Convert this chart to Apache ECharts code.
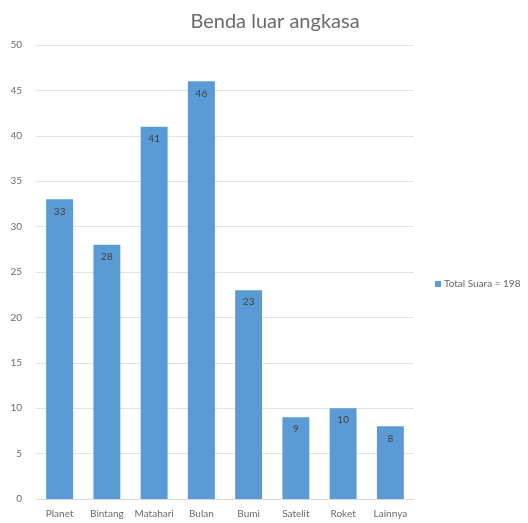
<!DOCTYPE html>
<html lang="id">
<head>
    <meta charset="utf-8">
    <title>Benda luar angkasa</title>
    <script src="https://cdn.jsdelivr.net/npm/echarts@6/dist/echarts.min.js"></script>
    <style>
        html, body { margin: 0; padding: 0; background: #fff; }
        #main { width: 528px; height: 523px; }
    </style>
</head>
<body>
<div id="main"></div>
<script>
    var categories = ['Planet', 'Bintang', 'Matahari', 'Bulan', 'Bumi', 'Satelit', 'Roket', 'Lainnya'];
    var values = [33, 28, 41, 46, 23, 9, 10, 8];
    var seriesName = 'Total Suara = 198';
    var yTicks = { min: 0, max: 50, interval: 5 };

    var chart = echarts.init(document.getElementById('main'));
    chart.setOption({
        textStyle: { fontFamily: 'Lato, "Open Sans", sans-serif' },
        title: {
            text: 'Benda luar angkasa',
            left: 270,
            textAlign: 'center',
            top: 7,
            textStyle: { fontSize: 20, fontWeight: 'normal', color: '#6b6b6b', fontFamily: 'Lato, "Open Sans", sans-serif' }
        },
        legend: {
            data: [seriesName],
            orient: 'vertical',
            left: 430,
            top: 274,
            icon: 'rect',
            itemWidth: 6,
            itemHeight: 6,
            itemGap: 4,
            textStyle: { fontSize: 10, color: '#666666', padding: [0, 0, 0, -2] }
        },
        grid: { left: 36, right: 114, top: 45, bottom: 24 },
        xAxis: {
            type: 'category',
            data: categories,
            axisLine: { lineStyle: { color: '#d9d9d9' } },
            axisTick: { show: false },
            axisLabel: { color: '#6b6b6b', fontSize: 10, margin: 10, interval: 0 }
        },
        yAxis: {
            type: 'value',
            min: yTicks.min,
            max: yTicks.max,
            interval: yTicks.interval,
            axisLine: { show: false },
            axisTick: { show: false },
            splitLine: { lineStyle: { color: '#e3e3e3' } },
            axisLabel: { color: '#6b6b6b', fontSize: 10, margin: 14 }
        },
        series: [{
            name: seriesName,
            type: 'bar',
            data: values,
            barWidth: '57%',
            itemStyle: { color: '#5b9bd5' },
            label: {
                show: true,
                position: 'insideTop',
                distance: 7,
                color: '#404040',
                fontSize: 10
            }
        }]
    });
</script>
</body>
</html>
